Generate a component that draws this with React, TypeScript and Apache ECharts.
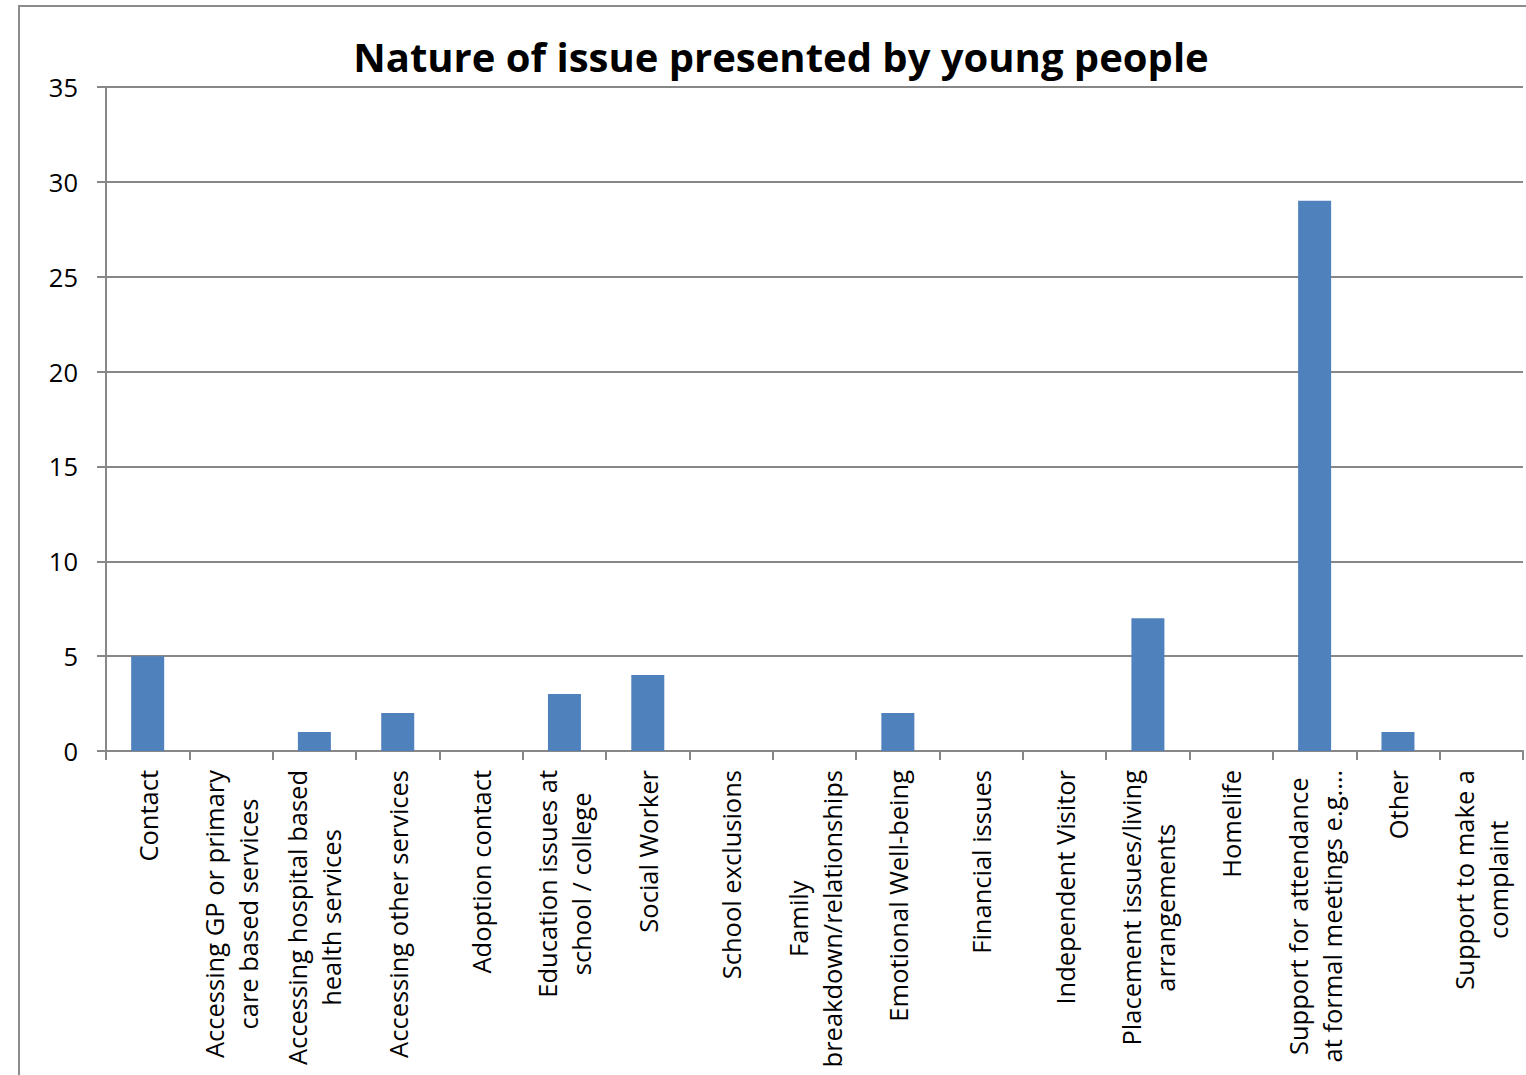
import React, { useEffect, useRef } from "react";
import * as echarts from "echarts";

const titleText = "Nature of issue presented by young people";

const categories: string[] = [
  "Contact",
  "Accessing GP or primary\ncare based services",
  "Accessing hospital based\nhealth services",
  "Accessing other services",
  "Adoption contact",
  "Education issues at\nschool / college",
  "Social Worker",
  "School exclusions",
  "Family\nbreakdown/relationships",
  "Emotional Well-being",
  "Financial issues",
  "Independent Visitor",
  "Placement issues/living\narrangements",
  "Homelife",
  "Support for attendance\nat formal meetings e.g.…",
  "Other",
  "Support to make a\ncomplaint",
];

const values: number[] = [5, 0, 1, 2, 0, 3, 4, 0, 0, 2, 0, 0, 7, 0, 29, 1, 0];

const yMin = 0;
const yMax = 35;
const yInterval = 5;

const FONT = "'Open Sans', 'Noto Sans', sans-serif";
const GRID_COLOR = "#878787";

export default function App() {
  const ref = useRef<HTMLDivElement>(null);

  useEffect(() => {
    if (!ref.current) return;
    const chart = echarts.init(ref.current, undefined, { renderer: "svg" });
    chart.setOption({
      animation: false,
      backgroundColor: "#ffffff",
      title: {
        text: titleText,
        left: 776,
        textAlign: "center",
        top: 31,
        textStyle: {
          fontFamily: FONT,
          fontWeight: "bold",
          fontSize: 40,
          color: "#000000",
        },
      },
      graphic: [
        {
          type: "rect",
          shape: { x: 19, y: 6, width: 1700, height: 1300 },
          style: { fill: "none", stroke: "#8c8c8c", lineWidth: 2 },
          silent: true,
        },
      ],
      grid: {
        left: 106,
        right: 3,
        top: 87,
        bottom: 324,
        containLabel: false,
      },
      xAxis: {
        type: "category",
        data: categories,
        boundaryGap: true,
        axisLine: { show: true, lineStyle: { color: GRID_COLOR, width: 2 } },
        axisTick: { show: true, length: 9, lineStyle: { color: GRID_COLOR, width: 2 } },
        axisLabel: {
          interval: 0,
          rotate: 90,
          margin: 19,
          fontFamily: FONT,
          fontSize: 25.5,
          color: "#000000",
          formatter: (v: string) =>
            v
              .split("\n")
              .map((l) => `{c|${l}}`)
              .join("\n"),
          rich: {
            c: {
              align: "center",
              fontFamily: FONT,
              fontSize: 25.5,
              lineHeight: 34,
              color: "#000000",
            },
          },
        },
      },
      yAxis: {
        type: "value",
        min: yMin,
        max: yMax,
        interval: yInterval,
        axisLine: { show: true, lineStyle: { color: GRID_COLOR, width: 2 } },
        axisTick: { show: true, length: 9, lineStyle: { color: GRID_COLOR, width: 2 } },
        splitLine: { show: true, lineStyle: { color: GRID_COLOR, width: 2 } },
        axisLabel: {
          margin: 28,
          fontFamily: FONT,
          fontSize: 25.5,
          color: "#000000",
        },
      },
      series: [
        {
          type: "bar",
          data: values,
          barWidth: 33,
          itemStyle: { color: "#4F81BD" },
        },
      ],
    });
    return () => chart.dispose();
  }, []);

  return (
    <div
      ref={ref}
      style={{ position: "fixed", left: 0, top: 0, width: 1526, height: 1075 }}
    />
  );
}
